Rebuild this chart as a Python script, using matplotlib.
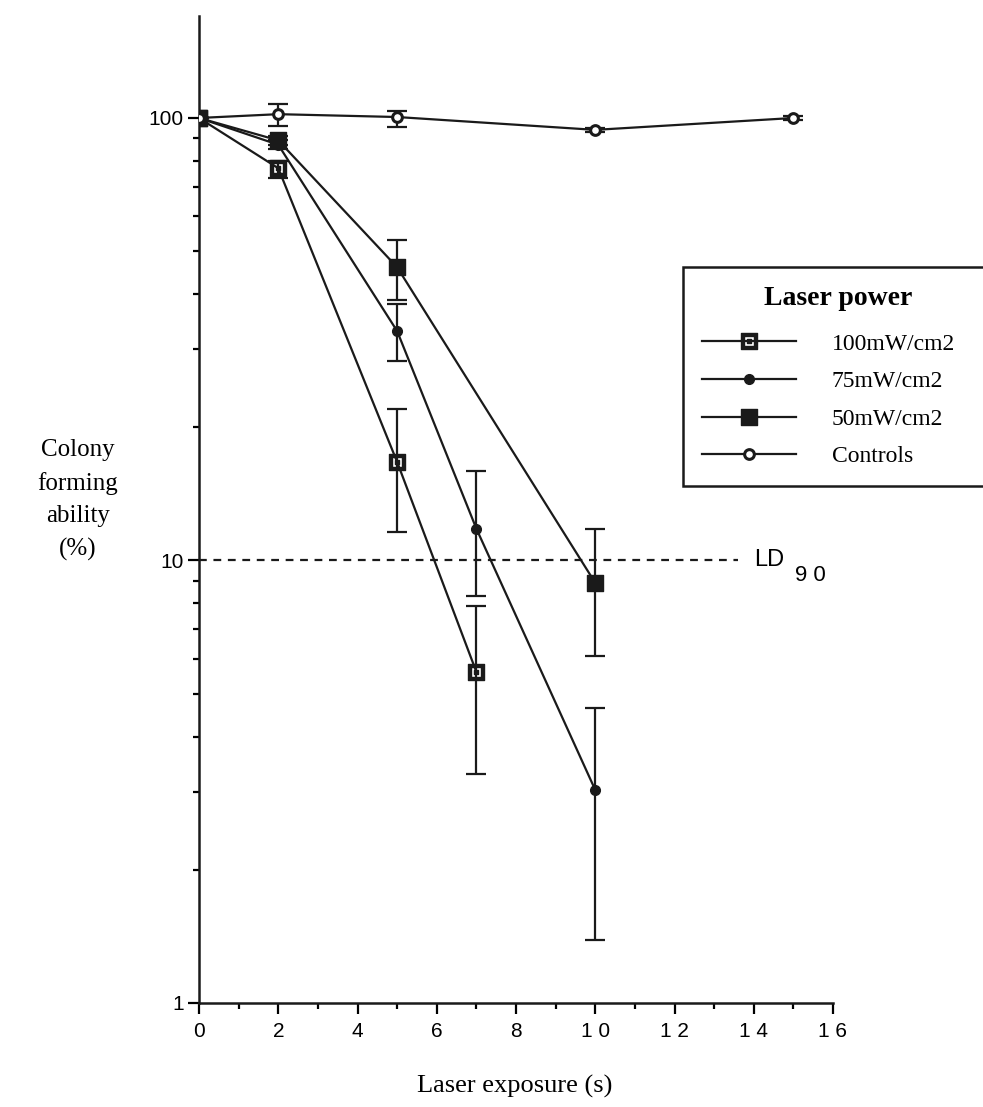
import numpy as np
import matplotlib.pyplot as plt
from matplotlib.path import Path
from matplotlib.ticker import FixedLocator, NullFormatter

# Data (x = laser exposure in s, y = colony forming ability in %)
x_100 = [0, 2, 5, 7]
y_100 = [100, 77, 16.7, 5.6]
lo_100 = [100, 73, 11.6, 3.3]
hi_100 = [100, 80, 22.0, 7.9]

x_75 = [0, 2, 5, 7, 10]
y_75 = [100, 87, 33, 11.8, 3.03]
lo_75 = [100, 85, 28.2, 8.3, 1.39]
hi_75 = [100, 89, 38, 15.9, 4.63]

x_50 = [0, 2, 5, 10]
y_50 = [100, 89, 46, 8.9]
lo_50 = [100, 87, 38.8, 6.07]
hi_50 = [100, 91, 53, 11.75]

x_ctrl = [0, 2, 5, 10, 15]
y_ctrl = [100, 102, 100.5, 94, 100]
lo_ctrl = [100, 96, 95.4, 93, 99]
hi_ctrl = [100, 107.5, 103.7, 95, 101]

labels = ["100mW/cm2", "75mW/cm2", "50mW/cm2", "Controls"]
ld90 = 10

serif = ["Liberation Serif", "DejaVu Serif"]
sans = ["Liberation Sans", "DejaVu Sans"]


def square_marker(hole, dot):
    # square with a square hole and a dot in the middle
    def sq(h, rev=False):
        v = [(-h, -h), (h, -h), (h, h), (-h, h), (-h, -h)]
        if rev:
            v = v[::-1]
        return v
    verts, codes = [], []
    for h, rev in [(1.0, False), (hole, True), (dot, False)]:
        if h <= 0:
            continue
        v = sq(h, rev)
        verts += v
        codes += [Path.MOVETO] + [Path.LINETO] * 3 + [Path.CLOSEPOLY]
    return Path(verts, codes)


open_sq = square_marker(0.62, 0.22)
full_sq = square_marker(0.14, 0.0)

fig = plt.figure(figsize=(9.83, 11.07), dpi=100)
ax = fig.add_axes([199 / 983, 1 - 1003 / 1107, (833 - 199) / 983, (1003 - 16) / 1107])

series = [
    (x_100, y_100, lo_100, hi_100, dict(marker=open_sq, ms=11)),
    (x_75, y_75, lo_75, hi_75, dict(marker="o", ms=7)),
    (x_50, y_50, lo_50, hi_50, dict(marker=full_sq, ms=12)),
    (x_ctrl, y_ctrl, lo_ctrl, hi_ctrl, dict(marker="o", ms=7, mfc="white", mew=2.2)),
]
handles = []
for (xs, ys, lo, hi, style), lab in zip(series, labels):
    ys = np.array(ys)
    yerr = [ys - np.array(lo), np.array(hi) - ys]
    ax.errorbar(xs, ys, yerr=yerr, fmt="none", ecolor="#1a1a1a", elinewidth=1.6,
                capsize=7, capthick=1.6, zorder=2)
    kw = dict(color="#1a1a1a", lw=1.6, mec="#1a1a1a")
    kw.update(style)
    if "mfc" not in kw:
        kw["mfc"] = "#1a1a1a"
    ln, = ax.plot(xs, ys, label=lab, zorder=3, **kw)
    handles.append(ln)

ax.plot([0, 13.6], [ld90, ld90], color="#1a1a1a", lw=1.6, dashes=(3.5, 3), zorder=1)
ax.text(14.0, ld90, "LD", fontsize=17, family=sans, va="center", ha="left")
ax.text(15.05, 9.25, "9 0", fontsize=16, family=sans, va="center", ha="left")

ax.set_yscale("log")
ax.set_ylim(1, 170)
ax.set_xlim(0, 16)

ax.xaxis.set_major_locator(FixedLocator(np.arange(0, 17, 2)))
ax.xaxis.set_minor_locator(FixedLocator(np.arange(1, 16, 2)))
ax.yaxis.set_major_locator(FixedLocator([1, 10, 100]))
minor_y = [v * d for d in [1, 10, 100] for v in range(2, 10) if v * d < 170]
ax.yaxis.set_minor_locator(FixedLocator(minor_y))
ax.yaxis.set_minor_formatter(NullFormatter())
ax.set_yticklabels(["1", "10", "100"])
ax.set_xticklabels(["0", "2", "4", "6", "8", "1 0", "1 2", "1 4", "1 6"])

ax.tick_params(which="major", direction="out", length=8, width=1.6, labelsize=15)
ax.tick_params(axis="x", which="major", pad=6)
ax.tick_params(axis="y", which="major", pad=3)
ax.tick_params(which="minor", direction="out", length=4, width=1.6)
for t in ax.get_xticklabels() + ax.get_yticklabels():
    t.set_family(sans)

for s in ["top", "right"]:
    ax.spines[s].set_visible(False)
for s in ["left", "bottom"]:
    ax.spines[s].set_linewidth(1.8)
    ax.spines[s].set_color("#1a1a1a")

fig.text(78 / 983, 1 - 500 / 1107, "Colony\nforming\nability\n(%)", ha="center",
         va="center", fontsize=18, family=serif, linespacing=1.6)
fig.text(515 / 983, 1 - 1086 / 1107, "Laser exposure (s)", ha="center", va="center",
         fontsize=19, family=serif)

leg = ax.legend(handles=handles, loc="upper left", mode="expand",
                bbox_to_anchor=(683 / 983, 1 - 486 / 1107, 310 / 983, 219 / 1107),
                bbox_transform=fig.transFigure, borderaxespad=0,
                title="Laser power", handlelength=4.0,
                handletextpad=1.5, labelspacing=0.68, borderpad=0.8,
                fancybox=False, edgecolor="#1a1a1a", framealpha=1,
                prop={"family": serif, "size": 17},
                title_fontproperties={"family": serif, "size": 20, "weight": "bold"})
leg.get_frame().set_linewidth(1.8)
leg._legend_box.sep = 16

fig.savefig("out.png", dpi=100)
